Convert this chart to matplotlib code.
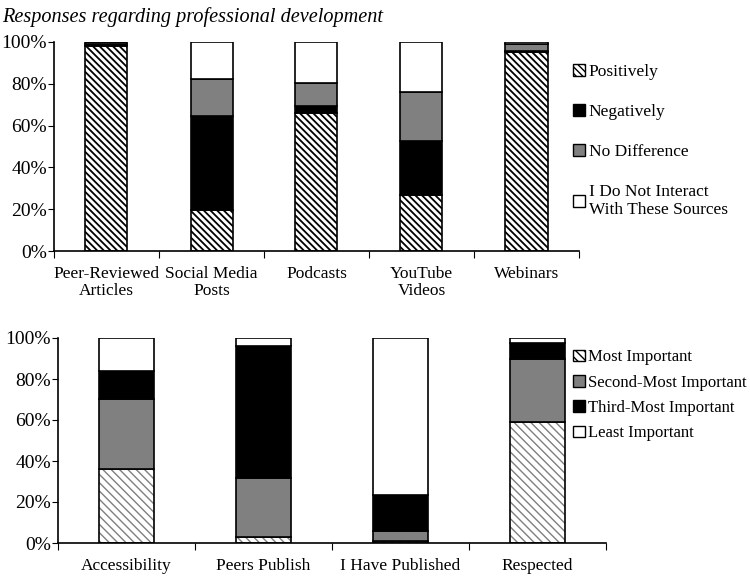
import numpy as np
import matplotlib
matplotlib.use("Agg")
import matplotlib.pyplot as plt
from matplotlib.patches import Patch

plt.rcParams["font.family"] = ["Liberation Serif", "DejaVu Serif"]
plt.rcParams["font.size"] = 12

# top chart: how sources affect professional development (%)
sources = ["Peer-Reviewed\nArticles", "Social Media\nPosts", "Podcasts",
           "YouTube\nVideos", "Webinars"]
positively = [98.0, 19.5, 66.2, 27.0, 95.0]
negatively = [1.0, 45.1, 3.2, 25.5, 0.5]
no_difference = [1.0, 17.6, 11.2, 23.8, 3.5]
no_interact = [0.0, 17.8, 19.4, 23.7, 1.0]
top_names = ["Positively", "Negatively", "No Difference",
             "I Do Not Interact\nWith These Sources"]

# bottom chart: importance ranking (%)
factors = ["Accessibility", "Peers Publish", "I Have Published", "Respected"]
most = [36.3, 2.9, 1.0, 59.0]
second = [34.1, 28.8, 5.0, 30.9]
third = [13.7, 64.4, 17.3, 7.7]
least = [15.9, 3.9, 76.7, 2.4]
bottom_names = ["Most Important", "Second-Most Important",
                "Third-Most Important", "Least Important"]

# (face, hatch, hatch colour) per stack level
styles = [("white", "\\\\\\\\\\", "black"),
          ("black", "", "black"),
          ("#808080", "", "black"),
          ("white", "", "black")]
styles_b = [("white", "\\\\\\\\", "#7f7f7f"),
            ("#808080", "", "black"),
            ("black", "", "black"),
            ("white", "", "black")]


def stacked(ax, labels, series, sty, hatch_lw):
    x = np.arange(len(labels))
    base = np.zeros(len(labels))
    for vals, (fc, h, hc) in zip(series, sty):
        vals = np.array(vals)
        plt.rcParams["hatch.linewidth"] = hatch_lw
        ax.bar(x, vals, 0.4, bottom=base, color=fc, hatch=h, edgecolor=hc,
               linewidth=0)
        ax.bar(x, vals, 0.4, bottom=base, fill=False, edgecolor="black",
               linewidth=1.2)
        base += vals
    ax.set_xlim(-0.5, len(labels) - 0.5)
    ax.set_ylim(0, 100)
    ax.set_yticks(np.arange(0, 101, 20))
    ax.set_yticklabels(["{}%".format(v) for v in range(0, 101, 20)])
    ax.set_xticks(np.arange(len(labels) + 1) - 0.5)
    ax.set_xticklabels([])
    ax.set_xticks(x, minor=True)
    ax.set_xticklabels(labels, minor=True, fontsize=12.5, linespacing=1.05)
    ax.tick_params(axis="x", which="minor", length=0, pad=11)
    ax.tick_params(axis="x", which="major", length=5, direction="out")
    ax.tick_params(axis="y", length=4, direction="out", labelsize=14, pad=1)
    for s in ["top", "right"]:
        ax.spines[s].set_visible(False)
    for s in ["left", "bottom"]:
        ax.spines[s].set_linewidth(1.2)


fig = plt.figure(figsize=(7.5, 5.76), dpi=100)
ax1 = fig.add_axes([54 / 750, 1 - 251 / 576, 525 / 750, 209 / 576])
ax2 = fig.add_axes([58 / 750, 1 - 543 / 576, 548 / 750, 205 / 576])

stacked(ax1, sources, [positively, negatively, no_difference, no_interact],
        styles, 1.3)
stacked(ax2, factors, [most, second, third, least], styles_b, 1.0)

fig.text(0.003, 0.988, "Responses regarding professional development",
         fontsize=14.6, style="italic", va="top", ha="left")

h1 = [Patch(facecolor=fc, hatch=h, edgecolor="black", linewidth=1)
      for fc, h, hc in styles]
h2 = [Patch(facecolor=fc, hatch=h, edgecolor="black", linewidth=1)
      for fc, h, hc in styles_b]
ax1.legend(h1, top_names, loc="upper left", bbox_to_anchor=(0.989, 0.895),
           frameon=False, handlelength=0.7, handleheight=0.7,
           handletextpad=0.2, labelspacing=1.37, fontsize=12.5,
           borderaxespad=0, borderpad=0)
ax2.legend(h2, bottom_names, loc="upper left", bbox_to_anchor=(0.940, 0.945),
           frameon=False, handlelength=0.72, handleheight=0.72,
           handletextpad=0.2, labelspacing=0.56, fontsize=12,
           borderaxespad=0, borderpad=0)

fig.savefig("out.png", dpi=100)
